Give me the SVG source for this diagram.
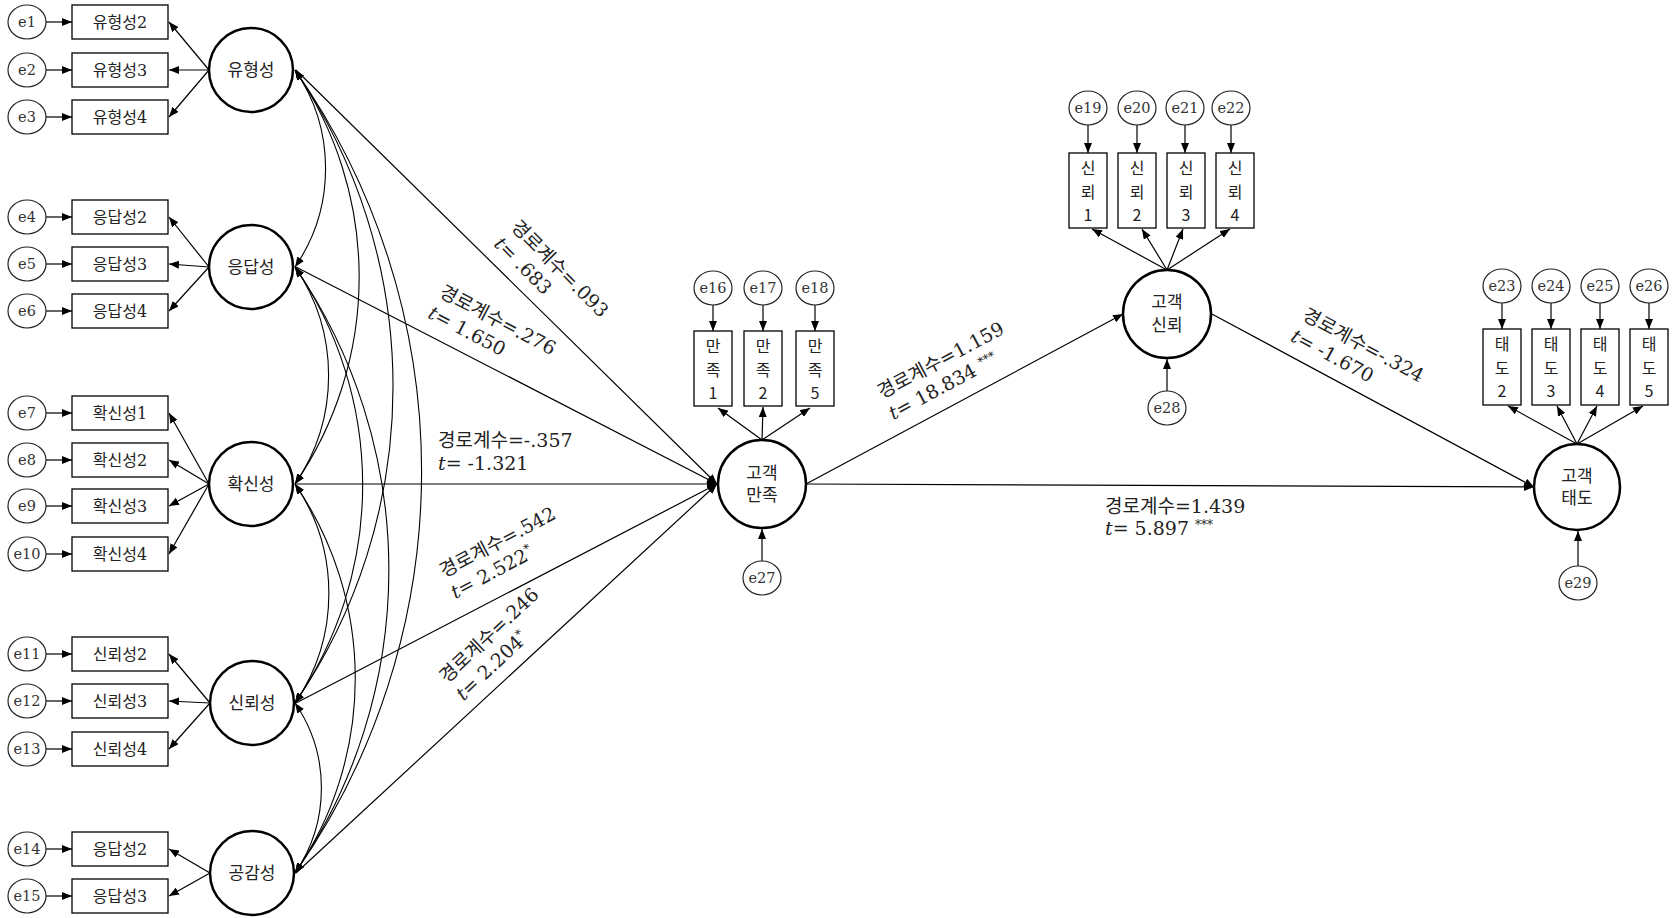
<svg xmlns="http://www.w3.org/2000/svg" width="1676" height="918" viewBox="0 0 1676 918">
<style>
.bg{fill:#fff}
.lat{fill:#fff;stroke:#000;stroke-width:2.5}
.err{fill:#fff;stroke:#222;stroke-width:1.2}
.box{fill:#fff;stroke:#000;stroke-width:1.3}
.ln{stroke:#000;stroke-width:1.2;fill:none;marker-end:url(#ah)}
.cov{stroke:#000;stroke-width:1.1;fill:none;marker-start:url(#ah);marker-end:url(#ah)}
.lb{font-family:"DejaVu Serif","Noto Sans CJK KR",serif;font-size:16px;fill:#222;text-anchor:middle;dominant-baseline:central}
.lt{font-family:"DejaVu Serif","Noto Sans CJK KR",serif;font-size:17px;fill:#222;text-anchor:middle;dominant-baseline:central}
.vt{font-family:"Noto Sans CJK KR",sans-serif;font-size:16px;fill:#222;text-anchor:middle;dominant-baseline:central}
.el{font-family:"DejaVu Serif",serif;font-size:14.5px;fill:#333;text-anchor:middle;dominant-baseline:central}
.pl{font-family:"DejaVu Serif","Noto Sans CJK KR",serif;font-size:19px;fill:#222}
.it{font-style:italic}
.sup{font-size:12px}
</style>
<defs>
<marker id="ah" viewBox="0 0 10 8" refX="10" refY="4" markerWidth="10" markerHeight="8" markerUnits="userSpaceOnUse" orient="auto-start-reverse"><path d="M0,0 L10,4 L0,8 z" fill="#000"/></marker>
</defs>
<rect class="bg" x="0" y="0" width="1676" height="918"/>

<g id="connectors">
<path class="cov" d="M295,70 A174,174 0 0 1 295,267"/>
<path class="cov" d="M295,70 A366,366 0 0 1 295,484"/>
<path class="cov" d="M295,70 A560,560 0 0 1 295,703"/>
<path class="cov" d="M295,70 A700,700 0 0 1 295,873"/>
<path class="cov" d="M295,267 A192,192 0 0 1 295,484"/>
<path class="cov" d="M295,267 A385,385 0 0 1 295,703"/>
<path class="cov" d="M295,267 A536,536 0 0 1 295,873"/>
<path class="cov" d="M295,484 A194,194 0 0 1 295,703"/>
<path class="cov" d="M295,484 A344,344 0 0 1 295,873"/>
<path class="cov" d="M295,703 A150,150 0 0 1 295,873"/>
<line class="ln" x1="296" y1="70" x2="717" y2="484"/>
<line class="ln" x1="296" y1="267" x2="717" y2="484"/>
<line class="ln" x1="296" y1="484" x2="717" y2="484"/>
<line class="ln" x1="296" y1="703" x2="717" y2="484"/>
<line class="ln" x1="296" y1="873" x2="717" y2="484"/>
<line class="ln" x1="806" y1="484" x2="1123" y2="314"/>
<line class="ln" x1="806" y1="484" x2="1534" y2="487"/>
<line class="ln" x1="1210" y1="313" x2="1534" y2="487"/>
<line class="ln" x1="209" y1="70" x2="169" y2="22"/>
<line class="ln" x1="209" y1="70" x2="169" y2="70"/>
<line class="ln" x1="209" y1="70" x2="169" y2="117"/>
<line class="ln" x1="209" y1="267" x2="169" y2="217"/>
<line class="ln" x1="209" y1="267" x2="169" y2="264"/>
<line class="ln" x1="209" y1="267" x2="169" y2="311"/>
<line class="ln" x1="209" y1="484" x2="169" y2="413"/>
<line class="ln" x1="209" y1="484" x2="169" y2="460"/>
<line class="ln" x1="209" y1="484" x2="169" y2="506"/>
<line class="ln" x1="209" y1="484" x2="169" y2="554"/>
<line class="ln" x1="210" y1="703" x2="169" y2="654"/>
<line class="ln" x1="210" y1="703" x2="169" y2="701"/>
<line class="ln" x1="210" y1="703" x2="169" y2="749"/>
<line class="ln" x1="210" y1="873" x2="169" y2="849"/>
<line class="ln" x1="210" y1="873" x2="169" y2="896"/>
<line class="ln" x1="46" y1="22" x2="72" y2="22"/>
<line class="ln" x1="46" y1="70" x2="72" y2="70"/>
<line class="ln" x1="46" y1="117" x2="72" y2="117"/>
<line class="ln" x1="46" y1="217" x2="72" y2="217"/>
<line class="ln" x1="46" y1="264" x2="72" y2="264"/>
<line class="ln" x1="46" y1="311" x2="72" y2="311"/>
<line class="ln" x1="46" y1="413" x2="72" y2="413"/>
<line class="ln" x1="46" y1="460" x2="72" y2="460"/>
<line class="ln" x1="46" y1="506" x2="72" y2="506"/>
<line class="ln" x1="46" y1="554" x2="72" y2="554"/>
<line class="ln" x1="46" y1="654" x2="72" y2="654"/>
<line class="ln" x1="46" y1="701" x2="72" y2="701"/>
<line class="ln" x1="46" y1="749" x2="72" y2="749"/>
<line class="ln" x1="46" y1="849" x2="72" y2="849"/>
<line class="ln" x1="46" y1="896" x2="72" y2="896"/>
<line class="ln" x1="762" y1="440" x2="718" y2="408"/>
<line class="ln" x1="762" y1="440" x2="763" y2="407"/>
<line class="ln" x1="762" y1="440" x2="810" y2="408"/>
<line class="ln" x1="713" y1="305" x2="713" y2="331"/>
<line class="ln" x1="763" y1="305" x2="763" y2="331"/>
<line class="ln" x1="815" y1="305" x2="815" y2="331"/>
<line class="ln" x1="762" y1="561" x2="762" y2="529"/>
<line class="ln" x1="1167" y1="270" x2="1092" y2="229"/>
<line class="ln" x1="1167" y1="270" x2="1142" y2="229"/>
<line class="ln" x1="1167" y1="270" x2="1183" y2="229"/>
<line class="ln" x1="1167" y1="270" x2="1230" y2="229"/>
<line class="ln" x1="1088" y1="125" x2="1088" y2="153"/>
<line class="ln" x1="1137" y1="125" x2="1137" y2="153"/>
<line class="ln" x1="1185" y1="125" x2="1185" y2="153"/>
<line class="ln" x1="1231" y1="125" x2="1231" y2="153"/>
<line class="ln" x1="1167" y1="391" x2="1167" y2="359"/>
<line class="ln" x1="1577" y1="444" x2="1508" y2="406"/>
<line class="ln" x1="1577" y1="444" x2="1557" y2="406"/>
<line class="ln" x1="1577" y1="444" x2="1597" y2="406"/>
<line class="ln" x1="1577" y1="444" x2="1643" y2="406"/>
<line class="ln" x1="1502" y1="303" x2="1502" y2="329"/>
<line class="ln" x1="1551" y1="303" x2="1551" y2="329"/>
<line class="ln" x1="1600" y1="303" x2="1600" y2="329"/>
<line class="ln" x1="1649" y1="303" x2="1649" y2="329"/>
<line class="ln" x1="1578" y1="566" x2="1578" y2="531"/>
</g>

<g id="path-labels">
<text class="pl" transform="translate(510,228) rotate(45)"><tspan x="0" y="0">경로계수=.093</tspan><tspan x="0" y="24"><tspan class="it">t</tspan>= .683</tspan></text>
<text class="pl" transform="translate(438,296) rotate(27.7)"><tspan x="0" y="0">경로계수=.276</tspan><tspan x="0" y="24"><tspan class="it">t</tspan>= 1.650</tspan></text>
<text class="pl" transform="translate(438,447)"><tspan x="0" y="0">경로계수=-.357</tspan><tspan x="0" y="23"><tspan class="it">t</tspan>= -1.321</tspan></text>
<text class="pl" transform="translate(444,578) rotate(-28)"><tspan x="0" y="0">경로계수=.542</tspan><tspan x="0" y="24"><tspan class="it">t</tspan>= 2.522<tspan class="sup" dy="-7">*</tspan></tspan></text>
<text class="pl" transform="translate(447,684) rotate(-43.4)"><tspan x="0" y="0">경로계수=.246</tspan><tspan x="0" y="24"><tspan class="it">t</tspan>= 2.204<tspan class="sup" dy="-7">*</tspan></tspan></text>
<text class="pl" transform="translate(882,399) rotate(-28.2)"><tspan x="0" y="0">경로계수=1.159</tspan><tspan x="0" y="24"><tspan class="it">t</tspan>= 18.834 <tspan class="sup" dy="-6">***</tspan></tspan></text>
<text class="pl" transform="translate(1105,513)"><tspan x="0" y="0">경로계수=1.439</tspan><tspan x="0" y="22"><tspan class="it">t</tspan>= 5.897 <tspan class="sup" dy="-6">***</tspan></tspan></text>
<text class="pl" transform="translate(1301,319) rotate(28.3)"><tspan x="0" y="0">경로계수=-.324</tspan><tspan x="0" y="24"><tspan class="it">t</tspan>= -1.670</tspan></text>
</g>

<g id="n-tangible"><circle class="lat" cx="251" cy="70" r="42"/><text class="lt" x="251" y="70">유형성</text></g>
<g id="n-yh2"><rect class="box" x="72" y="5" width="96" height="34"/><text class="lb" x="120" y="22">유형성2</text></g>
<g id="n-yh3"><rect class="box" x="72" y="53" width="96" height="34"/><text class="lb" x="120" y="70">유형성3</text></g>
<g id="n-yh4"><rect class="box" x="72" y="100" width="96" height="34"/><text class="lb" x="120" y="117">유형성4</text></g>
<g id="n-e1"><ellipse class="err" cx="27" cy="22" rx="19" ry="17"/><text class="el" x="27" y="22">e1</text></g>
<g id="n-e2"><ellipse class="err" cx="27" cy="70" rx="19" ry="17"/><text class="el" x="27" y="70">e2</text></g>
<g id="n-e3"><ellipse class="err" cx="27" cy="117" rx="19" ry="17"/><text class="el" x="27" y="117">e3</text></g>

<g id="n-resp"><circle class="lat" cx="251" cy="267" r="42"/><text class="lt" x="251" y="267">응답성</text></g>
<g id="n-ed2"><rect class="box" x="72" y="200" width="96" height="34"/><text class="lb" x="120" y="217">응답성2</text></g>
<g id="n-ed3"><rect class="box" x="72" y="247" width="96" height="34"/><text class="lb" x="120" y="264">응답성3</text></g>
<g id="n-ed4"><rect class="box" x="72" y="294" width="96" height="34"/><text class="lb" x="120" y="311">응답성4</text></g>
<g id="n-e4"><ellipse class="err" cx="27" cy="217" rx="19" ry="17"/><text class="el" x="27" y="217">e4</text></g>
<g id="n-e5"><ellipse class="err" cx="27" cy="264" rx="19" ry="17"/><text class="el" x="27" y="264">e5</text></g>
<g id="n-e6"><ellipse class="err" cx="27" cy="311" rx="19" ry="17"/><text class="el" x="27" y="311">e6</text></g>

<g id="n-assur"><circle class="lat" cx="251" cy="484" r="42"/><text class="lt" x="251" y="484">확신성</text></g>
<g id="n-hs1"><rect class="box" x="72" y="396" width="96" height="34"/><text class="lb" x="120" y="413">확신성1</text></g>
<g id="n-hs2"><rect class="box" x="72" y="443" width="96" height="34"/><text class="lb" x="120" y="460">확신성2</text></g>
<g id="n-hs3"><rect class="box" x="72" y="489" width="96" height="34"/><text class="lb" x="120" y="506">확신성3</text></g>
<g id="n-hs4"><rect class="box" x="72" y="537" width="96" height="34"/><text class="lb" x="120" y="554">확신성4</text></g>
<g id="n-e7"><ellipse class="err" cx="27" cy="413" rx="19" ry="17"/><text class="el" x="27" y="413">e7</text></g>
<g id="n-e8"><ellipse class="err" cx="27" cy="460" rx="19" ry="17"/><text class="el" x="27" y="460">e8</text></g>
<g id="n-e9"><ellipse class="err" cx="27" cy="506" rx="19" ry="17"/><text class="el" x="27" y="506">e9</text></g>
<g id="n-e10"><ellipse class="err" cx="27" cy="554" rx="19" ry="17"/><text class="el" x="27" y="554">e10</text></g>

<g id="n-reli"><circle class="lat" cx="252" cy="703" r="42"/><text class="lt" x="252" y="703">신뢰성</text></g>
<g id="n-sr2"><rect class="box" x="72" y="637" width="96" height="34"/><text class="lb" x="120" y="654">신뢰성2</text></g>
<g id="n-sr3"><rect class="box" x="72" y="684" width="96" height="34"/><text class="lb" x="120" y="701">신뢰성3</text></g>
<g id="n-sr4"><rect class="box" x="72" y="732" width="96" height="34"/><text class="lb" x="120" y="749">신뢰성4</text></g>
<g id="n-e11"><ellipse class="err" cx="27" cy="654" rx="19" ry="17"/><text class="el" x="27" y="654">e11</text></g>
<g id="n-e12"><ellipse class="err" cx="27" cy="701" rx="19" ry="17"/><text class="el" x="27" y="701">e12</text></g>
<g id="n-e13"><ellipse class="err" cx="27" cy="749" rx="19" ry="17"/><text class="el" x="27" y="749">e13</text></g>

<g id="n-emp"><circle class="lat" cx="252" cy="873" r="42"/><text class="lt" x="252" y="873">공감성</text></g>
<g id="n-ge2"><rect class="box" x="72" y="832" width="96" height="34"/><text class="lb" x="120" y="849">응답성2</text></g>
<g id="n-ge3"><rect class="box" x="72" y="879" width="96" height="34"/><text class="lb" x="120" y="896">응답성3</text></g>
<g id="n-e14"><ellipse class="err" cx="27" cy="849" rx="19" ry="17"/><text class="el" x="27" y="849">e14</text></g>
<g id="n-e15"><ellipse class="err" cx="27" cy="896" rx="19" ry="17"/><text class="el" x="27" y="896">e15</text></g>

<g id="n-sat"><circle class="lat" cx="762" cy="484" r="44"/><text class="lt"><tspan x="762" y="473">고객</tspan><tspan x="762" y="495">만족</tspan></text></g>
<g id="n-sat1"><rect class="box" x="694" y="331" width="38" height="75"/><text class="vt"><tspan x="713" y="345">만</tspan><tspan x="713" y="368.5">족</tspan><tspan x="713" y="392">1</tspan></text></g>
<g id="n-sat2"><rect class="box" x="744" y="331" width="38" height="75"/><text class="vt"><tspan x="763" y="345">만</tspan><tspan x="763" y="368.5">족</tspan><tspan x="763" y="392">2</tspan></text></g>
<g id="n-sat5"><rect class="box" x="796" y="331" width="38" height="75"/><text class="vt"><tspan x="815" y="345">만</tspan><tspan x="815" y="368.5">족</tspan><tspan x="815" y="392">5</tspan></text></g>
<g id="n-e16"><ellipse class="err" cx="713" cy="288" rx="19" ry="17"/><text class="el" x="713" y="288">e16</text></g>
<g id="n-e17"><ellipse class="err" cx="763" cy="288" rx="19" ry="17"/><text class="el" x="763" y="288">e17</text></g>
<g id="n-e18"><ellipse class="err" cx="815" cy="288" rx="19" ry="17"/><text class="el" x="815" y="288">e18</text></g>
<g id="n-e27"><ellipse class="err" cx="762" cy="578" rx="19" ry="17"/><text class="el" x="762" y="578">e27</text></g>

<g id="n-trust"><circle class="lat" cx="1167" cy="314" r="44"/><text class="lt"><tspan x="1167" y="302">고객</tspan><tspan x="1167" y="325">신뢰</tspan></text></g>
<g id="n-tr1"><rect class="box" x="1069" y="153" width="38" height="75"/><text class="vt"><tspan x="1088" y="167">신</tspan><tspan x="1088" y="190.5">뢰</tspan><tspan x="1088" y="214">1</tspan></text></g>
<g id="n-tr2"><rect class="box" x="1118" y="153" width="38" height="75"/><text class="vt"><tspan x="1137" y="167">신</tspan><tspan x="1137" y="190.5">뢰</tspan><tspan x="1137" y="214">2</tspan></text></g>
<g id="n-tr3"><rect class="box" x="1167" y="153" width="38" height="75"/><text class="vt"><tspan x="1186" y="167">신</tspan><tspan x="1186" y="190.5">뢰</tspan><tspan x="1186" y="214">3</tspan></text></g>
<g id="n-tr4"><rect class="box" x="1216" y="153" width="38" height="75"/><text class="vt"><tspan x="1235" y="167">신</tspan><tspan x="1235" y="190.5">뢰</tspan><tspan x="1235" y="214">4</tspan></text></g>
<g id="n-e19"><ellipse class="err" cx="1088" cy="108" rx="19" ry="17"/><text class="el" x="1088" y="108">e19</text></g>
<g id="n-e20"><ellipse class="err" cx="1137" cy="108" rx="19" ry="17"/><text class="el" x="1137" y="108">e20</text></g>
<g id="n-e21"><ellipse class="err" cx="1185" cy="108" rx="19" ry="17"/><text class="el" x="1185" y="108">e21</text></g>
<g id="n-e22"><ellipse class="err" cx="1231" cy="108" rx="19" ry="17"/><text class="el" x="1231" y="108">e22</text></g>
<g id="n-e28"><ellipse class="err" cx="1167" cy="408" rx="19" ry="17"/><text class="el" x="1167" y="408">e28</text></g>

<g id="n-att"><circle class="lat" cx="1577" cy="487" r="43"/><text class="lt"><tspan x="1577" y="476">고객</tspan><tspan x="1577" y="498">태도</tspan></text></g>
<g id="n-at2"><rect class="box" x="1483" y="329" width="38" height="76"/><text class="vt"><tspan x="1502" y="343">태</tspan><tspan x="1502" y="366.5">도</tspan><tspan x="1502" y="390">2</tspan></text></g>
<g id="n-at3"><rect class="box" x="1532" y="329" width="38" height="76"/><text class="vt"><tspan x="1551" y="343">태</tspan><tspan x="1551" y="366.5">도</tspan><tspan x="1551" y="390">3</tspan></text></g>
<g id="n-at4"><rect class="box" x="1581" y="329" width="38" height="76"/><text class="vt"><tspan x="1600" y="343">태</tspan><tspan x="1600" y="366.5">도</tspan><tspan x="1600" y="390">4</tspan></text></g>
<g id="n-at5"><rect class="box" x="1630" y="329" width="38" height="76"/><text class="vt"><tspan x="1649" y="343">태</tspan><tspan x="1649" y="366.5">도</tspan><tspan x="1649" y="390">5</tspan></text></g>
<g id="n-e23"><ellipse class="err" cx="1502" cy="286" rx="19" ry="17"/><text class="el" x="1502" y="286">e23</text></g>
<g id="n-e24"><ellipse class="err" cx="1551" cy="286" rx="19" ry="17"/><text class="el" x="1551" y="286">e24</text></g>
<g id="n-e25"><ellipse class="err" cx="1600" cy="286" rx="19" ry="17"/><text class="el" x="1600" y="286">e25</text></g>
<g id="n-e26"><ellipse class="err" cx="1649" cy="286" rx="19" ry="17"/><text class="el" x="1649" y="286">e26</text></g>
<g id="n-e29"><ellipse class="err" cx="1578" cy="583" rx="19" ry="17"/><text class="el" x="1578" y="583">e29</text></g>
</svg>
